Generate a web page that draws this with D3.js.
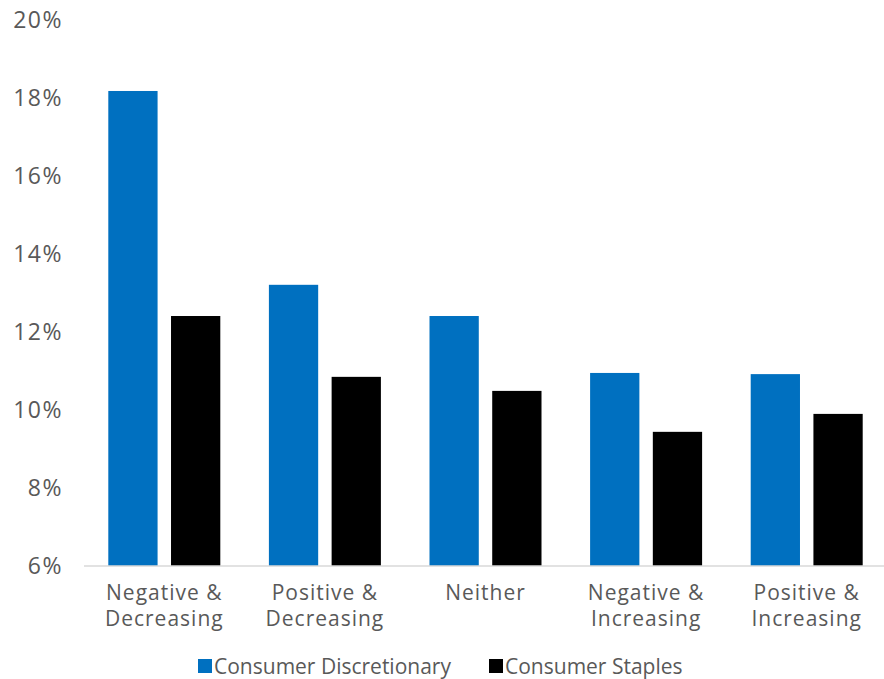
<!DOCTYPE html>
<html>
<head>
<meta charset="utf-8">
<script src="https://cdn.jsdelivr.net/npm/d3@7"></script>
<style>
  body { margin: 0; background: #fff; }
  text { font-family: "Open Sans", sans-serif; fill: #595959; }
</style>
</head>
<body>
<div id="chart"></div>
<script>
const categories = [["Negative &", "Decreasing"], ["Positive &", "Decreasing"], ["Neither"], ["Negative &", "Increasing"], ["Positive &", "Increasing"]];
const seriesNames = ["Consumer Discretionary", "Consumer Staples"];
const seriesColors = ["#0070c0", "#000000"];
const discretionary = [18.18, 13.21, 12.41, 10.95, 10.92];
const staples = [12.41, 10.85, 10.49, 9.44, 9.90];
const yTicks = [6, 8, 10, 12, 14, 16, 18, 20];

const width = 884, height = 679;
const plotLeft = 84, plotRight = 887, plotTop = 20, plotBottom = 566;

const svg = d3.select("#chart").append("svg")
    .attr("width", width)
    .attr("height", height);

const x = d3.scaleBand()
    .domain(d3.range(categories.length))
    .range([plotLeft, plotRight])
    .paddingInner(0)
    .paddingOuter(0);

const y = d3.scaleLinear().domain([6, 20]).range([plotBottom, plotTop]);

const groupWidth = 112;
const x1 = d3.scaleBand()
    .domain([0, 1])
    .range([0, groupWidth])
    .paddingInner(12 / 56)
    .paddingOuter(0);

// подписи оси Y
svg.append("g").selectAll("text")
    .data(yTicks)
    .enter().append("text")
    .attr("x", 63)
    .attr("y", d => y(d))
    .attr("dy", "0.35em")
    .attr("text-anchor", "end")
    .attr("font-size", "23px")
    .attr("letter-spacing", "1.5px")
    .text(d => d + "%");

// столбцы
const data = [discretionary, staples];
const groups = svg.append("g").selectAll("g")
    .data(categories)
    .enter().append("g")
    .attr("transform", (d, i) => `translate(${x(i) + (x.bandwidth() - groupWidth) / 2},0)`);

groups.selectAll("rect")
    .data((d, i) => data.map((s, k) => ({ k: k, v: s[i] })))
    .enter().append("rect")
    .attr("x", d => x1(d.k))
    .attr("width", x1.bandwidth())
    .attr("y", d => y(d.v))
    .attr("height", d => y(6) - y(d.v))
    .attr("fill", d => seriesColors[d.k]);

// линия оси
svg.append("line")
    .attr("x1", plotLeft).attr("x2", width)
    .attr("y1", plotBottom).attr("y2", plotBottom)
    .attr("stroke", "#d9d9d9")
    .attr("stroke-width", 1.5);

// подписи категорий
groups.append("text")
    .attr("x", groupWidth / 2)
    .attr("text-anchor", "middle")
    .attr("font-size", "21px")
    .attr("letter-spacing", "1px")
    .selectAll("tspan")
    .data(d => d)
    .enter().append("tspan")
    .attr("x", groupWidth / 2)
    .attr("y", (d, i) => 600 + i * 25.5)
    .text(d => d);

// легенда
const legendX = [198, 489];
const legend = svg.append("g").selectAll("g")
    .data(seriesNames)
    .enter().append("g")
    .attr("transform", (d, i) => `translate(${legendX[i]},659)`);

legend.append("rect")
    .attr("width", 14).attr("height", 14)
    .attr("fill", (d, i) => seriesColors[i]);

legend.append("text")
    .attr("x", 16)
    .attr("y", 8)
    .attr("dy", "0.35em")
    .attr("font-size", "21px")
    .text(d => d);
</script>
</body>
</html>
